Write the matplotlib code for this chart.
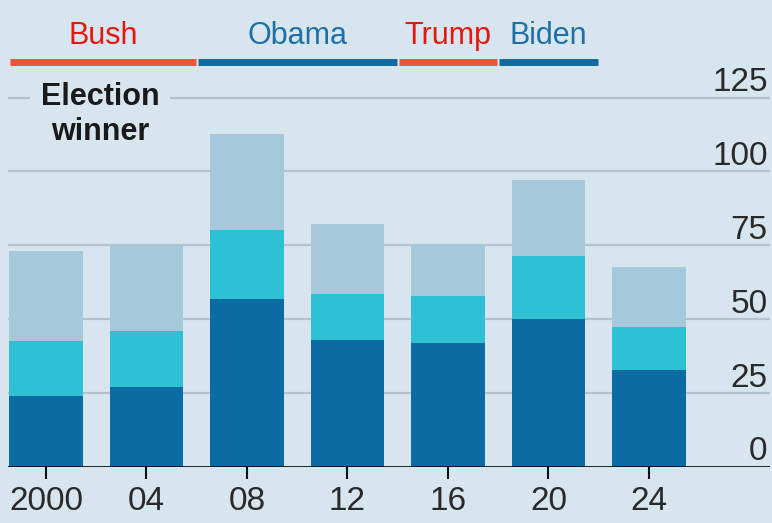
import matplotlib
matplotlib.use("Agg")
import matplotlib.pyplot as plt

# Election years and stacked segment values
years = ["2000", "04", "08", "12", "16", "20", "24"]
dark = [24.0, 27.0, 57.0, 42.8, 41.9, 49.9, 32.7]
mid = [18.5, 19.0, 23.2, 15.7, 15.8, 21.5, 14.5]
light = [30.5, 29.0, 32.4, 23.6, 17.9, 25.8, 20.4]
yticks = [0, 25, 50, 75, 100, 125]

# Election winners: name, first and last election index, party
terms = [
    ("Bush", 0, 1, "rep"),
    ("Obama", 2, 3, "dem"),
    ("Trump", 4, 4, "rep"),
    ("Biden", 5, 5, "dem"),
]

BG = "#d6e5ee"
C_DARK = "#0a6ca1"
C_MID = "#2ec0d3"
C_LIGHT = "#a5c8da"
GRID = "#b3c2cb"
LINE_COL = {"rep": "#ee5538", "dem": "#116aa0"}
TEXT_COL = {"rep": "#e8160f", "dem": "#1f70a6"}

plt.rcParams["font.family"] = ["Liberation Sans", "DejaVu Sans"]
FS_TICK = 24
FS_HEAD = 22

fig = plt.figure(figsize=(7.72, 5.23), dpi=100, facecolor=BG)
ax = fig.add_axes([8 / 772, 56 / 523, 762 / 772, 467 / 523])
ax.set_facecolor(BG)

PX = 2.956  # pixels per unit on the value axis
W = 0.736
x = list(range(len(years)))
ax.set_xlim(-0.378, 7.204)
ax.set_ylim(0, 467 / PX)

# horizontal gridlines
for v in yticks[1:]:
    ax.axhline(v, color=GRID, lw=1.6, zorder=1)
ax.axhline(0, color="#111111", lw=2.0, zorder=4)

bottom2 = [d + m for d, m in zip(dark, mid)]
ax.bar(x, dark, width=W, color=C_DARK, zorder=2)
ax.bar(x, mid, width=W, bottom=dark, color=C_MID, zorder=2)
ax.bar(x, light, width=W, bottom=bottom2, color=C_LIGHT, zorder=2)

# value labels sitting above gridlines on the right
for v in yticks:
    ax.text(0.997, v + 6.5 / PX, str(v), transform=ax.get_yaxis_transform(),
            ha="right", va="baseline", fontsize=FS_TICK, color="#2a2a2a",
            zorder=5)

ax.set_yticks([])
ax.set_xticks(x)
ax.set_xticklabels(years, fontsize=FS_TICK, color="#2a2a2a")
ax.tick_params(axis="x", length=8.5, width=1.5, color="#111111", pad=5)
for s in ax.spines.values():
    s.set_visible(False)

# winner bars and names above the chart
y_line = (467 - 61.5) / PX
y_name = (467 - 44) / PX
for name, a, b, party in terms:
    x0 = max(a - 0.5, -W / 2) + 0.01
    x1 = b + 0.5 - 0.01
    ax.plot([x0, x1], [y_line, y_line], color=LINE_COL[party], lw=5.0,
            solid_capstyle="butt", clip_on=False, zorder=5)
    ax.text((x0 + x1) / 2, y_name, name, ha="center", va="baseline",
            fontsize=FS_HEAD, color=TEXT_COL[party], clip_on=False)

ax.text(0.537, (467 - 140) / PX, "Election\nwinner", ha="center",
        va="baseline", fontsize=FS_HEAD, fontweight="bold",
        color="#1a1a1a", linespacing=1.22, zorder=6,
        bbox=dict(boxstyle="square,pad=0.35", facecolor=BG, edgecolor="none"))

fig.savefig("out.png", dpi=100, facecolor=BG)
